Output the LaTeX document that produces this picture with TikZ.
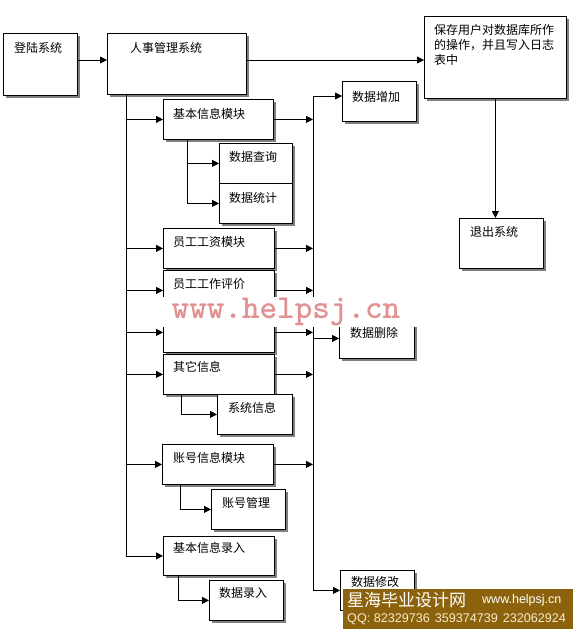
\documentclass[tikz,border=0pt]{standalone}
\usepackage{fontspec}
\setmainfont{Liberation Sans}
\newfontfamily\cjk{Noto Sans CJK SC}
\usetikzlibrary{arrows.meta,shadows,calc}
\definecolor{bannerbrown}{RGB}{140,99,12}
\definecolor{wmpink}{RGB}{225,145,145}
\definecolor{qqcream}{RGB}{245,236,205}
\tikzset{
  box/.style={draw, line width=0.8pt, fill=white, inner sep=0pt, anchor=north west,
    drop shadow={shadow xshift=3pt, shadow yshift=-3pt, fill=black!50, opacity=1}},
  lab/.style={anchor=west, inner sep=0pt, font=\cjk\fontsize{12}{15}\selectfont},
  conn/.style={line width=0.8pt},
  arr/.style={conn, -{Triangle[length=7pt,width=7pt]}}
}
\begin{document}
\begin{tikzpicture}[x=1pt,y=-1pt]
\useasboundingbox (0,0) rectangle (573,629);
\fill[white] (0,0) rectangle (573,629);
% boxes
\node[box, minimum width=74pt, minimum height=62pt] (A) at (3,33) {};
\node[lab] (tA) at ($(A.north west)+(11,15)$) {登陆系统};
\node[box, minimum width=139pt, minimum height=61pt] (B) at (107,33) {};
\node[lab] (tB) at ($(B.north west)+(23,15)$) {人事管理系统};
\node[box, minimum width=142pt, minimum height=82pt] (C) at (424,16) {};
\node[lab, anchor=north west, align=left] (tC) at ($(C.north west)+(10,8)$) {保存用户对数据库所作\\的操作，并且写入日志\\表中};
\node[box, minimum width=84pt, minimum height=50pt] (D) at (459,218) {};
\node[lab] (tD) at ($(D.north west)+(11,14)$) {退出系统};
\node[box, minimum width=74pt, minimum height=40pt] (E) at (342,81) {};
\node[lab] (tE) at ($(E.north west)+(10,16)$) {数据增加};
\node[box, minimum width=110pt, minimum height=40pt] (F) at (163,99) {};
\node[lab] (tF) at ($(F.north west)+(10,15)$) {基本信息模块};
\node[box, minimum width=73pt, minimum height=40pt] (G) at (219,143) {};
\node[lab] (tG) at ($(G.north west)+(10,14)$) {数据查询};
\node[box, minimum width=73pt, minimum height=40pt] (H) at (219,183) {};
\node[lab] (tH) at ($(H.north west)+(10,15)$) {数据统计};
\node[box, minimum width=111pt, minimum height=40pt] (I) at (163,228) {};
\node[lab] (tI) at ($(I.north west)+(10,14)$) {员工工资模块};
\node[box, minimum width=111pt, minimum height=40pt] (J) at (163,270) {};
\node[lab] (tJ) at ($(J.north west)+(10,14)$) {员工工作评价};
\node[box, minimum width=111pt, minimum height=40pt] (K) at (163,312) {};
\node[box, minimum width=75pt, minimum height=40pt] (L) at (339,318) {};
\node[lab] (tL) at ($(L.north west)+(11,15)$) {数据删除};
\node[box, minimum width=111pt, minimum height=40pt] (M) at (163,354) {};
\node[lab] (tM) at ($(M.north west)+(10,13)$) {其它信息};
\node[box, minimum width=75pt, minimum height=40pt] (N) at (217,394) {};
\node[lab] (tN) at ($(N.north west)+(11,14)$) {系统信息};
\node[box, minimum width=111pt, minimum height=40pt] (O) at (162,444) {};
\node[lab] (tO) at ($(O.north west)+(11,14)$) {账号信息模块};
\node[box, minimum width=74pt, minimum height=40pt] (P) at (211,489) {};
\node[lab] (tP) at ($(P.north west)+(11,14)$) {账号管理};
\node[box, minimum width=111pt, minimum height=39pt] (Q) at (163,536) {};
\node[lab] (tQ) at ($(Q.north west)+(10,12)$) {基本信息录入};
\node[box, minimum width=74pt, minimum height=40pt] (R) at (209,580) {};
\node[lab] (tR) at ($(R.north west)+(10,13)$) {数据录入};
\node[box, minimum width=74pt, minimum height=40pt] (S) at (340,570) {};
\node[lab] (tS) at ($(S.north west)+(11,12)$) {数据修改};
% top connectors
\coordinate (ab) at ($(A.north east)+(0,27)$);
\draw[arr] (ab) -- (ab -| B.west);
\coordinate (bc) at ($(B.north east)+(0,27)$);
\draw[arr] (bc) -- (bc -| C.west);
\draw[arr] (C.south) -- (C.south |- D.north);
% left trunk
\coordinate (t0) at ($(B.south west)+(19,0)$);
\draw[conn] (t0) -- (t0 |- Q.west);
\foreach \n in {F,I,J,K,M,O,Q} \draw[arr] (t0 |- \n.west) -- (\n.west);
% right trunk
\coordinate (r0) at (313,96);
\draw[conn] (r0) -- (r0 |- S.west);
\draw[arr] (r0) -- (r0 -| E.west);
\draw[arr] (r0 |- L.west) -- (L.west);
\draw[arr] (r0 |- S.west) -- (S.west);
\foreach \n in {F,I,J,K,M,O} \draw[arr] (\n.east) -- (\n.east -| r0);
% sub trees
\coordinate (f0) at ($(F.south west)+(24,0)$);
\draw[conn] (f0) -- (f0 |- H.west);
\draw[arr] (f0 |- G.west) -- (G.west);
\draw[arr] (f0 |- H.west) -- (H.west);
\coordinate (m0) at ($(M.south west)+(18,0)$);
\draw[arr] (m0) |- (N.west);
\coordinate (o0) at ($(O.south west)+(18,0)$);
\draw[arr] (o0) |- (P.west);
\coordinate (q0) at ($(Q.south west)+(15,0)$);
\draw[arr] (q0) |- (R.west);
% watermark
\fill[white] (158,297) rectangle (420,327);
\node[text=wmpink, font=\ttfamily\bfseries\fontsize{33.5}{34}\selectfont, inner sep=0pt] (wm) at (286,312) {www.helpsj.cn};
% banner
\fill[bannerbrown] (343,589) rectangle (573,629);
\node[anchor=west, inner sep=0pt, text=white, font=\cjk\fontsize{17}{17}\selectfont] (bt) at (347,600) {星海毕业设计网};
\node[anchor=west, inner sep=0pt, text=white, font=\fontsize{12.5}{13}\selectfont] (bu) at (482,600) {www.helpsj.cn};
\node[anchor=west, inner sep=0pt, text=qqcream, font=\fontsize{12.6}{13}\selectfont] (bq) at (347,619) {QQ: 82329736\hspace{5pt}359374739\hspace{5pt}232062924};
\end{tikzpicture}
\end{document}
